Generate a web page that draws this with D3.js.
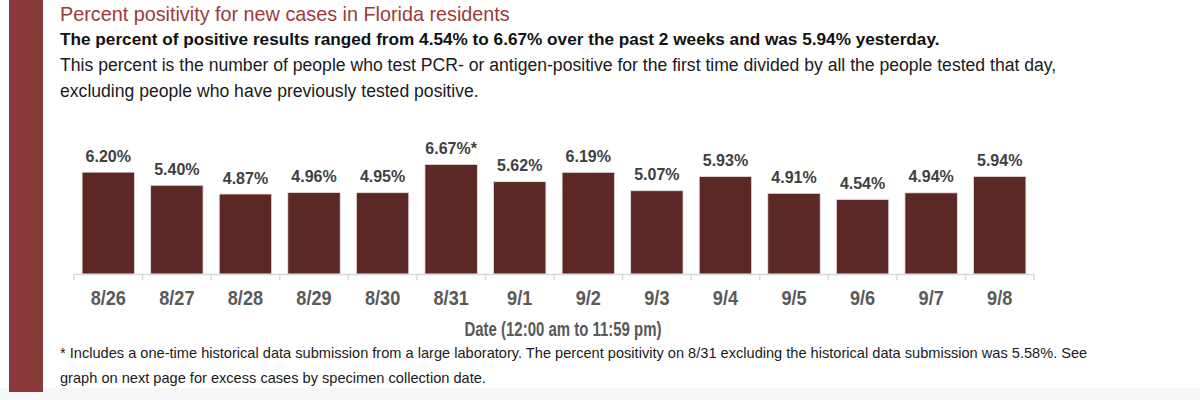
<!DOCTYPE html>
<html><head><meta charset="utf-8">
<script src="https://cdn.jsdelivr.net/npm/d3@7"></script>
<style>
html,body{margin:0;padding:0;background:#fff;}
svg{display:block;}
text{font-family:"Liberation Sans",Arial,sans-serif;}
</style></head>
<body>
<svg id="chart" width="1200" height="400"></svg>
<script>
const dates = ["8/26","8/27","8/28","8/29","8/30","8/31","9/1","9/2","9/3","9/4","9/5","9/6","9/7","9/8"];
const positivity = [6.20,5.40,4.87,4.96,4.95,6.67,5.62,6.19,5.07,5.93,4.91,4.54,4.94,5.94];
const footMarks = ["","","","","","*","","","","","","","",""];
const titleText = "Percent positivity for new cases in Florida residents";
const subtitleText = "The percent of positive results ranged from 4.54% to 6.67% over the past 2 weeks and was 5.94% yesterday.";
const descLines = ["This percent is the number of people who test PCR- or antigen-positive for the first time divided by all the people tested that day,",
                   "excluding people who have previously tested positive."];
const axisTitle = "Date (12:00 am to 11:59 pm)";
const footnoteLines = ["* Includes a one-time historical data submission from a large laboratory. The percent positivity on 8/31 excluding the historical data submission was 5.58%. See",
                       "graph on next page for excess cases by specimen collection date."];

const svg = d3.select("#chart");
// bottom light strip
svg.append("rect").attr("x",0).attr("y",388).attr("width",1200).attr("height",12).attr("fill","#f7f7f7");
// left accent bar
svg.append("rect").attr("x",9).attr("y",0).attr("width",34).attr("height",392).attr("fill","#8b3a3a");

svg.append("text").attr("x",60).attr("y",21).attr("font-size",19.8).attr("fill","#9b3b3b").text(titleText);
svg.append("text").attr("x",60).attr("y",45).attr("font-size",17.2).attr("font-weight","bold").attr("fill","#111").text(subtitleText);
svg.selectAll("text.desc").data(descLines).join("text").attr("class","desc")
  .attr("x",60).attr("y",(d,i)=>71+i*26).attr("font-size",17.6).attr("fill","#1a1a1a").text(d=>d);

const x = d3.scaleBand().domain(dates).range([74,1034]).paddingInner(0.236).paddingOuter(0.118);
const y = d3.scaleLinear().domain([0,8]).range([274,142.6]);

svg.selectAll("rect.bar").data(dates).join("rect").attr("class","bar")
  .attr("x",d=>x(d)).attr("width",x.bandwidth())
  .attr("y",(d,i)=>y(positivity[i])).attr("height",(d,i)=>y(0)-y(positivity[i]))
  .attr("fill","#5c2825").attr("stroke","#e6dede").attr("stroke-width",0.8);

svg.selectAll("text.val").data(dates).join("text").attr("class","val")
  .attr("x",d=>x(d)+x.bandwidth()/2).attr("y",(d,i)=>y(positivity[i])-10.5)
  .attr("text-anchor","middle").attr("font-size",16).attr("font-weight","bold").attr("fill","#404040")
  .text((d,i)=>positivity[i].toFixed(2)+"%"+footMarks[i]);

// axis
const gap = (x.step()-x.bandwidth())/2;
const axis = d3.axisBottom(x).tickSize(0).tickPadding(0);
const g = svg.append("g").attr("transform","translate(0,274)").call(axis);
g.select(".domain").attr("stroke","#d9d9d9").attr("stroke-width",1.5);
g.selectAll(".tick text").attr("y",31).attr("dy",0).attr("font-size",19.5).attr("font-weight","bold")
  .attr("fill","#595959").attr("font-family","'Liberation Sans',Arial,sans-serif")
  .attr("textLength",function(){return this.getComputedTextLength()*0.93;}).attr("lengthAdjust","spacingAndGlyphs");
const bounds = dates.map(d=>x(d)-gap).concat([x(dates[dates.length-1])+x.bandwidth()+gap]);
g.selectAll("line.bt").data(bounds).join("line").attr("class","bt")
  .attr("x1",d=>d).attr("x2",d=>d).attr("y1",0).attr("y2",6).attr("stroke","#d9d9d9").attr("stroke-width",1.5);

svg.append("text").attr("x",563).attr("y",336).attr("text-anchor","middle").attr("font-size",20)
  .attr("font-weight","bold").attr("fill","#595959")
  .attr("textLength",197).attr("lengthAdjust","spacingAndGlyphs").text(axisTitle);

svg.selectAll("text.foot").data(footnoteLines).join("text").attr("class","foot")
  .attr("x",60).attr("y",(d,i)=>358+i*25).attr("font-size",14.6).attr("fill","#1a1a1a").text(d=>d);
</script>
</body></html>
